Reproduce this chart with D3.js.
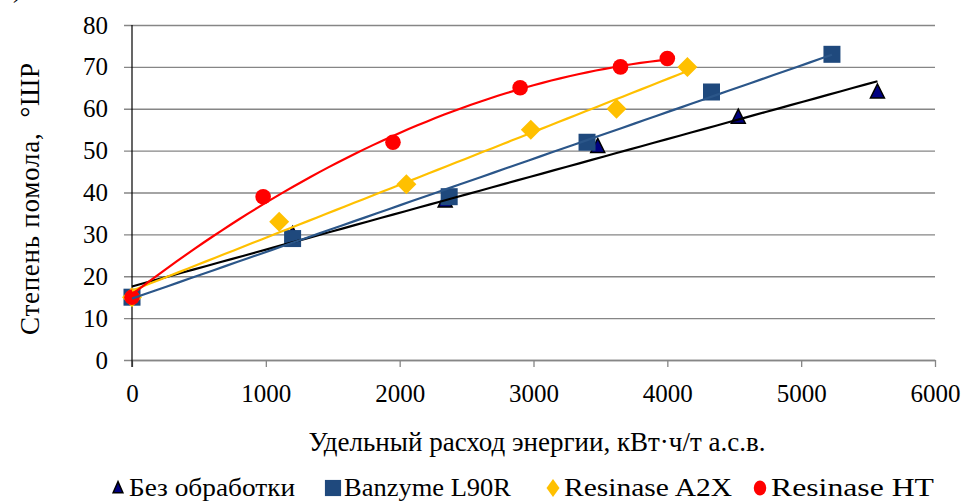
<!DOCTYPE html>
<html>
<head>
<meta charset="utf-8">
<script src="https://cdn.jsdelivr.net/npm/d3@7"></script>
<style>
  body { margin: 0; background: #fff; }
  svg { display: block; }
  text { font-family: "Liberation Serif", "Times New Roman", serif; fill: #000; }
</style>
</head>
<body>
<svg id="chart" width="963" height="502"></svg>
<script>
// series data (x: kWh/t, y: °ШР)
var seriesNames = ["Без обработки", "Banzyme L90R", "Resinase A2X", "Resinase HT"];
var noTreatX = [0, 1200, 2340, 3480, 4530, 5570];
var noTreatY = [15, 30, 38, 51, 58, 64];
var banzymeX = [0, 1200, 2370, 3400, 4330, 5230];
var banzymeY = [15, 29, 39, 52, 64, 73];
var a2xX = [0, 1100, 2050, 2980, 3620, 4150];
var a2xY = [15, 33, 42, 55, 60, 70];
var htX = [0, 980, 1950, 2900, 3650, 4000];
var htY = [15, 39, 52, 65, 70, 72];
var xTicks = [0, 1000, 2000, 3000, 4000, 5000, 6000];
var yTicks = [0, 10, 20, 30, 40, 50, 60, 70, 80];

var svg = d3.select("#chart");
var plotLeft = 132, plotRight = 935, plotTop = 25, plotBottom = 360;

var x = d3.scaleLinear().domain([0, 6000]).range([plotLeft, plotRight]);
var y = d3.scaleLinear().domain([0, 80]).range([plotBottom, plotTop]);

// least squares polynomial fit (trendlines like in Excel)
function fit(xs, ys, order) {
    var n = order + 1, A = [], i, j, k;
    for (i = 0; i < n; i++) {
        A.push([]);
        for (j = 0; j <= n; j++) A[i].push(0);
    }
    xs.forEach(function (xv, p) {
        var t = xv / 1000;
        for (i = 0; i < n; i++) {
            for (j = 0; j < n; j++) A[i][j] += Math.pow(t, i + j);
            A[i][n] += ys[p] * Math.pow(t, i);
        }
    });
    for (i = 0; i < n; i++) {
        for (k = i + 1; k < n; k++) {
            var f = A[k][i] / A[i][i];
            for (j = i; j <= n; j++) A[k][j] -= f * A[i][j];
        }
    }
    var c = [];
    for (i = n - 1; i >= 0; i--) {
        var s = A[i][n];
        for (j = i + 1; j < n; j++) s -= A[i][j] * c[j];
        c[i] = s / A[i][i];
    }
    return function (xv) {
        var t = xv / 1000, r = 0;
        for (var q = 0; q < n; q++) r += c[q] * Math.pow(t, q);
        return r;
    };
}

// gridlines + y tick labels
var yAxis = d3.axisLeft(y)
    .tickValues(yTicks)
    .tickSize(-(plotRight - plotLeft + 8))
    .tickSizeOuter(0)
    .tickPadding(16);
var gy = svg.append("g")
    .attr("transform", "translate(" + (plotLeft - 8) + ",0)")
    .call(yAxis);
gy.select(".domain").remove();
gy.selectAll(".tick line").attr("stroke", "#868686").attr("stroke-width", 1.3);
gy.selectAll(".tick text")
    .style("font-size", "25px")
    .style("font-family", "'Liberation Serif', 'Times New Roman', serif")
    .attr("fill", "#000");

// x axis
var xAxis = d3.axisBottom(x)
    .tickValues(xTicks)
    .tickFormat(d3.format("d"))
    .tickSize(7)
    .tickSizeOuter(0)
    .tickPadding(17);
var gx = svg.append("g")
    .attr("transform", "translate(0," + plotBottom + ")")
    .call(xAxis);
gx.select(".domain").attr("stroke", "#868686").attr("stroke-width", 1.3);
gx.selectAll(".tick line").attr("stroke", "#868686").attr("stroke-width", 1.3);
gx.selectAll(".tick text")
    .style("font-size", "25px")
    .style("font-family", "'Liberation Serif', 'Times New Roman', serif")
    .attr("fill", "#000");

// y axis line
svg.append("line")
    .attr("x1", plotLeft).attr("x2", plotLeft)
    .attr("y1", plotTop).attr("y2", plotBottom + 7)
    .attr("stroke", "#000").attr("stroke-width", 1.2);

// markers
var series = [
    { name: seriesNames[0], xs: noTreatX, ys: noTreatY, color: "#000080", line: "#000000", shape: "triangle", order: 1 },
    { name: seriesNames[1], xs: banzymeX, ys: banzymeY, color: "#1F497D", line: "#2B5689", shape: "square", order: 1 },
    { name: seriesNames[2], xs: a2xX, ys: a2xY, color: "#FFC000", line: "#FFC000", shape: "diamond", order: 1 },
    { name: seriesNames[3], xs: htX, ys: htY, color: "#FF0000", line: "#FF0000", shape: "circle", order: 2 }
];

function drawMarker(g, shape, color, sx, sy) {
    if (sy === undefined) sy = sx;
    if (shape === "triangle") {
        g.append("path").attr("d", "M0," + (-8 * sy) + "L" + (7 * sx) + "," + (6 * sy) + "L" + (-7 * sx) + "," + (6 * sy) + "Z")
            .attr("fill", color).attr("stroke", "#000").attr("stroke-width", 1.5);
    } else if (shape === "square") {
        g.append("rect").attr("x", -8.5 * sx).attr("y", -8.5 * sy)
            .attr("width", 17 * sx).attr("height", 17 * sy).attr("fill", color);
    } else if (shape === "diamond") {
        g.append("path").attr("d", "M0," + (-10 * sy) + "L" + (10 * sx) + ",0L0," + (10 * sy) + "L" + (-10 * sx) + ",0Z")
            .attr("fill", color);
    } else {
        g.append("ellipse").attr("rx", 7.8 * sx).attr("ry", 7.8 * sy).attr("fill", color);
    }
}

series.forEach(function (s) {
    var pts = s.xs.map(function (d, i) { return [d, s.ys[i]]; });
    svg.append("g").selectAll("g")
        .data(pts)
        .enter().append("g")
        .attr("transform", function (d) { return "translate(" + x(d[0]) + "," + y(d[1]) + ")"; })
        .each(function () { drawMarker(d3.select(this), s.shape, s.color, 1); });
});

// trendlines
var line = d3.line()
    .x(function (d) { return x(d[0]); })
    .y(function (d) { return y(d[1]); });
series.forEach(function (s) {
    var f = fit(s.xs, s.ys, s.order);
    var xmax = d3.max(s.xs), pts = [];
    for (var i = 0; i <= 60; i++) {
        var xv = xmax * i / 60;
        pts.push([xv, f(xv)]);
    }
    svg.append("path")
        .attr("d", line(pts))
        .attr("fill", "none")
        .attr("stroke", s.line)
        .attr("stroke-width", 2.2);
});

// axis titles
svg.append("text")
    .attr("x", 537).attr("y", 451)
    .attr("text-anchor", "middle")
    .style("font-size", "27px")
    .text("Удельный расход энергии, кВт·ч/т а.с.в.");

svg.append("text")
    .attr("transform", "translate(39,199) rotate(-90)")
    .attr("text-anchor", "middle")
    .style("font-size", "27px")
    .attr("textLength", 272)
    .attr("lengthAdjust", "spacing")
    .text("Степень помола,\u00a0\u00a0°ШР");

// cut-off panel label at the top left
svg.append("text")
    .attr("x", 13).attr("y", -2)
    .style("font-size", "24px")
    .text(")");

// legend
var legendX = [118, 333, 553, 760];
var lg = svg.append("g").selectAll("g")
    .data(series)
    .enter().append("g")
    .attr("transform", function (d, i) { return "translate(" + legendX[i] + ",488)"; });
lg.each(function (d) {
    var g = d3.select(this);
    if (d.shape === "triangle") drawMarker(g, d.shape, d.color, 0.7, 0.8);
    else if (d.shape === "square") drawMarker(g, d.shape, d.color, 0.95);
    else if (d.shape === "diamond") drawMarker(g, d.shape, d.color, 0.65, 0.9);
    else drawMarker(g, d.shape, d.color, 0.8, 0.95);
});
lg.append("text")
    .attr("x", 11).attr("y", 8)
    .style("font-size", "26px")
    .attr("textLength", function (d, i) { return [166, 167, 168, 163][i]; })
    .attr("lengthAdjust", "spacingAndGlyphs")
    .text(function (d) { return d.name; });
</script>
</body>
</html>
